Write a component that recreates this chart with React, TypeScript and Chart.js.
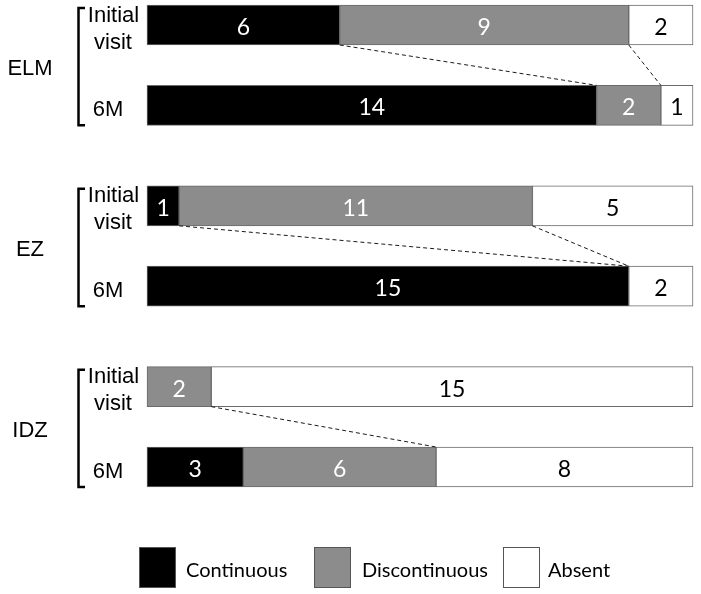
import React, { useEffect, useRef } from 'react';
import { Chart, registerables } from 'chart.js';

Chart.register(...registerables);

// ---- data ----
const groups = ['ELM', 'EZ', 'IDZ'];
const visits = ['Initial visit', '6M'];
const seriesNames = ['Continuous', 'Discontinuous', 'Absent'];
// order: ELM initial, ELM 6M, EZ initial, EZ 6M, IDZ initial, IDZ 6M
const continuous = [6, 14, 1, 15, 0, 3];
const discontinuous = [9, 2, 11, 0, 2, 6];
const absent = [2, 1, 5, 2, 15, 8];
const totalEyes = 17;

// ---- styles ----
const fills = ['#000000', '#8c8c8c', '#ffffff'];
const labelColors = ['#ffffff', '#ffffff', '#000000'];
const borderCol = '#6a6a6a';
const ROW_STEP = 4;
const GROUP_STEP = 5;

const slotOf = (g: number, r: number) => g * (ROW_STEP + GROUP_STEP) + r * ROW_STEP;
const nSlots = slotOf(groups.length - 1, visits.length - 1) + 1;

const slotLabels: string[] = Array(nSlots).fill('');
groups.forEach((g, gi) =>
  visits.forEach((v, ri) => {
    slotLabels[slotOf(gi, ri)] = `${g} ${v}`;
  })
);

const toSlots = (vals: number[]) => {
  const arr: (number | null)[] = Array(nSlots).fill(null);
  vals.forEach((v, i) => {
    const g = Math.floor(i / visits.length);
    const r = i % visits.length;
    arr[slotOf(g, r)] = v;
  });
  return arr;
};

const series = [continuous, discontinuous, absent];

const overlay = {
  id: 'overlay',
  afterDatasetsDraw(chart: any) {
    const ctx = chart.ctx as CanvasRenderingContext2D;
    const xs = chart.scales.x;
    const ys = chart.scales.y;
    const half = 20;

    ctx.save();
    // value labels
    ctx.font = '23px Lato';
    ctx.textAlign = 'center';
    ctx.textBaseline = 'alphabetic';
    series.forEach((_, di) => {
      const meta = chart.getDatasetMeta(di);
      meta.data.forEach((el: any, idx: number) => {
        const v = chart.data.datasets[di].data[idx];
        if (v == null || v === 0) return;
        ctx.fillStyle = labelColors[di];
        ctx.fillText(String(v), (el.x + el.base) / 2, el.y + 10);
      });
    });

    // dashed connectors
    ctx.strokeStyle = '#1a1a1a';
    ctx.lineWidth = 1;
    ctx.setLineDash([4, 3]);
    groups.forEach((_, gi) => {
      const i0 = gi * 2;
      const i1 = gi * 2 + 1;
      const yTop = ys.getPixelForValue(slotOf(gi, 0)) + half;
      const yBot = ys.getPixelForValue(slotOf(gi, 1)) - half;
      const cum0 = [continuous[i0], continuous[i0] + discontinuous[i0]];
      const cum1 = [continuous[i1], continuous[i1] + discontinuous[i1]];
      cum0.forEach((c, k) => {
        if (c <= 0 || c >= totalEyes) return;
        ctx.beginPath();
        ctx.moveTo(xs.getPixelForValue(c), yTop);
        ctx.lineTo(xs.getPixelForValue(cum1[k]), yBot);
        ctx.stroke();
      });
    });
    ctx.setLineDash([]);

    // brackets, group and row labels
    ctx.fillStyle = '#000';
    ctx.strokeStyle = '#000';
    groups.forEach((g, gi) => {
      const yA = ys.getPixelForValue(slotOf(gi, 0));
      const yB = ys.getPixelForValue(slotOf(gi, 1));
      const top = yA - half + 3;
      const bot = yB + half;
      ctx.lineWidth = 2.5;
      ctx.beginPath();
      ctx.moveTo(85, top);
      ctx.lineTo(78.5, top);
      ctx.lineTo(78.5, bot);
      ctx.lineTo(85, bot);
      ctx.stroke();

      ctx.font = '22px "Liberation Sans", Arial, sans-serif';
      ctx.textBaseline = 'alphabetic';
      ctx.textAlign = 'center';
      ctx.fillText(g, 30, (yA + yB) / 2 + 10);

      const parts = visits[0].split(' ');
      ctx.fillText(parts[0], 113.5, yA - 3.5);
      ctx.fillText(parts[1], 113, yA + 23.5);
      ctx.fillText(visits[1], 108, yB + 11);
    });

    // legend
    const boxX = [139, 314, 503];
    const textX = [186, 362, 548];
    ctx.font = '20px Lato';
    ctx.textAlign = 'left';
    ctx.textBaseline = 'alphabetic';
    seriesNames.forEach((name, i) => {
      ctx.fillStyle = fills[i];
      ctx.fillRect(boxX[i], 547, 36, 40);
      ctx.strokeStyle = '#555';
      ctx.lineWidth = 1;
      ctx.strokeRect(boxX[i] + 0.5, 547.5, 36, 40);
      ctx.fillStyle = '#000';
      ctx.fillText(name, textX[i], 577);
    });
    ctx.restore();
  },
};

export default function App() {
  const ref = useRef<HTMLCanvasElement>(null);
  useEffect(() => {
    if (!ref.current) return;
    const chart = new Chart(ref.current, {
      type: 'bar',
      data: {
        labels: slotLabels,
        datasets: series.map((vals, i) => ({
          label: seriesNames[i],
          data: toSlots(vals),
          backgroundColor: fills[i],
          borderColor: borderCol,
          borderWidth: 1,
          borderSkipped: false,
          barThickness: 40,
          clip: false as any,
        })),
      },
      options: {
        indexAxis: 'y',
        animation: false,
        responsive: false,
        devicePixelRatio: 1,
        layout: { padding: { left: 147, right: 8, top: 25, bottom: 127 } },
        scales: {
          x: { type: 'linear', min: 0, max: totalEyes, stacked: true, display: false },
          y: { type: 'category', stacked: true, display: false, offset: false },
        },
        plugins: {
          legend: { display: false },
          tooltip: { enabled: false },
        },
      },
      plugins: [overlay],
    });
    return () => chart.destroy();
  }, []);
  return (
    <div style={{ position: 'fixed', left: 0, top: 0, width: 701, height: 594, background: '#fff' }}>
      <canvas ref={ref} width={701} height={594} />
    </div>
  );
}
